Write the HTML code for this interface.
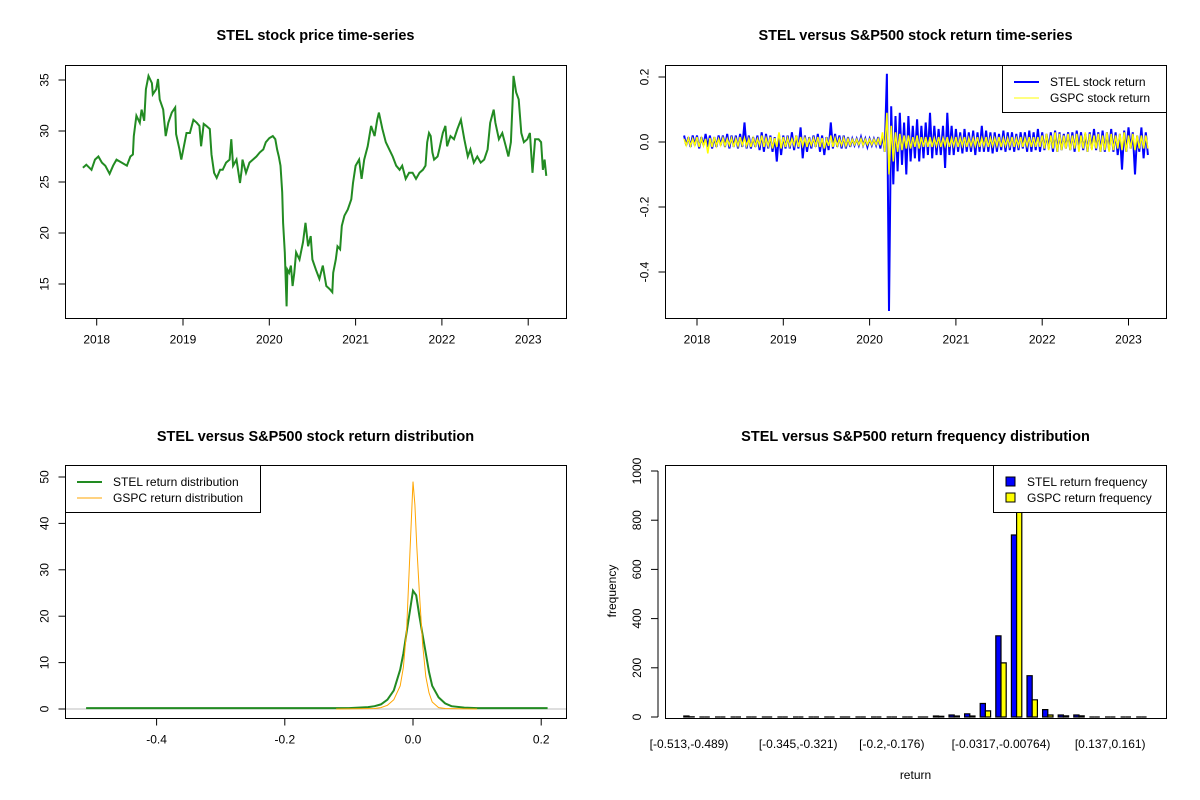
<!DOCTYPE html>
<html><head><meta charset="utf-8"><style>
body{margin:0;background:#fff;}
svg{display:block;font-family:"Liberation Sans",Arial,sans-serif;}
</style></head><body>
<svg id="c" width="1200" height="800" viewBox="0 0 1200 800"></svg>
<script>
// ---------- data ----------
const priceYears=[17.84,17.88,17.94,17.98,18.02,18.06,18.10,18.15,18.19,18.23,18.29,18.35,18.39,18.42,18.43,18.46,18.50,18.52,18.55,18.57,18.60,18.64,18.65,18.69,18.71,18.73,18.77,18.80,18.83,18.87,18.91,18.92,18.96,18.98,19.01,19.04,19.08,19.12,19.16,19.19,19.21,19.24,19.27,19.31,19.33,19.36,19.39,19.43,19.46,19.50,19.54,19.56,19.58,19.62,19.66,19.68,19.69,19.73,19.77,19.81,19.85,19.89,19.93,19.96,20.00,20.04,20.07,20.09,20.11,20.13,20.15,20.16,20.18,20.20,20.21,20.23,20.25,20.27,20.29,20.31,20.35,20.39,20.42,20.45,20.48,20.50,20.54,20.58,20.62,20.66,20.70,20.73,20.74,20.77,20.79,20.82,20.84,20.87,20.91,20.95,20.97,21.00,21.04,21.07,21.10,21.14,21.18,21.22,21.25,21.27,21.31,21.35,21.39,21.43,21.47,21.51,21.54,21.58,21.62,21.66,21.70,21.74,21.78,21.81,21.83,21.85,21.87,21.89,21.91,21.95,21.97,22.01,22.04,22.06,22.10,22.14,22.18,22.22,22.26,22.30,22.33,22.37,22.41,22.45,22.49,22.53,22.56,22.60,22.62,22.66,22.70,22.74,22.77,22.80,22.82,22.83,22.86,22.89,22.92,22.95,22.99,23.02,23.05,23.08,23.12,23.15,23.17,23.19,23.21];
const priceValues=[26.4,26.7,26.2,27.2,27.5,26.9,26.6,25.8,26.6,27.2,26.9,26.6,27.5,27.7,29.5,31.5,30.8,32.1,31.0,34.1,35.4,34.7,33.6,34.1,35.1,33.1,32.1,29.5,30.8,31.8,32.3,29.7,28.2,27.2,28.5,29.8,29.8,31.1,30.8,30.5,28.5,30.7,30.5,30.2,27.7,25.9,25.4,26.2,26.2,26.9,27.2,29.2,26.6,27.2,24.9,26.2,27.2,25.9,26.9,27.2,27.5,27.9,28.2,28.9,29.3,29.5,29.2,28.2,27.5,26.6,24.0,21.0,18.1,12.8,16.4,16.1,16.8,14.8,16.1,18.1,17.4,19.1,21.0,18.7,19.7,17.4,16.4,15.5,16.8,14.8,14.5,14.2,16.1,17.4,18.7,18.4,20.7,21.7,22.3,23.3,24.9,26.6,27.2,25.3,27.2,28.5,30.5,29.5,31.1,31.8,30.2,28.9,28.2,27.5,26.6,26.2,26.6,25.3,25.9,25.9,25.3,25.9,26.2,26.6,28.9,29.8,29.5,27.9,27.2,27.5,28.2,29.8,30.5,28.5,29.5,29.2,30.2,31.1,29.2,27.5,28.2,26.9,27.5,26.9,27.2,28.2,30.8,32.1,30.8,29.2,29.8,28.5,27.5,28.9,33.1,35.4,33.8,33.1,29.8,28.9,29.2,29.8,25.9,29.2,29.2,28.9,26.2,27.2,25.6];
const yearTicks=[2018,2019,2020,2021,2022,2023];
const priceTicks=[15,20,25,30,35];

const retStartYear=2017.85, retStep=0.05;
const stelHi=[.02,.015,.02,.02,.015,.025,.02,.015,.02,.02,.025,.02,.02,.025,.06,.02,.015,.02,.03,.025,.02,.015,.025,.02,.02,.03,.02,.045,.02,.015,.02,.025,.02,.015,.06,.025,.02,.02,.015,.01,.01,.015,.01,.01,.01,.015,.02,.21,.11,.08,.09,.06,.08,.05,.07,.05,.06,.09,.05,.04,.05,.09,.05,.04,.03,.04,.03,.035,.03,.05,.035,.03,.03,.025,.035,.03,.03,.025,.03,.03,.035,.03,.04,.03,.025,.03,.035,.03,.025,.03,.03,.035,.03,.025,.03,.04,.03,.035,.03,.04,.03,.025,.035,.045,.03,.02,.045,.03];
const stelLo=[-.01,-.015,-.01,-.02,-.01,-.015,-.02,-.015,-.01,-.015,-.02,-.015,-.02,-.015,-.02,-.02,-.015,-.025,-.03,-.02,-.03,-.06,-.04,-.02,-.02,-.025,-.02,-.05,-.03,-.02,-.015,-.03,-.04,-.025,-.02,-.015,-.02,-.02,-.015,-.01,-.01,-.01,-.015,-.01,-.01,-.02,-.03,-.52,-.13,-.09,-.07,-.10,-.06,-.05,-.06,-.05,-.04,-.05,-.04,-.04,-.08,-.04,-.04,-.03,-.035,-.03,-.03,-.04,-.03,-.03,-.03,-.035,-.03,-.025,-.03,-.025,-.03,-.025,-.02,-.03,-.03,-.025,-.03,-.025,-.02,-.03,-.03,-.025,-.02,-.025,-.03,-.02,-.025,-.03,-.02,-.025,-.03,-.03,-.025,-.03,-.04,-.085,-.03,-.02,-.10,-.03,-.05,-.04];
const gspcHi=[.01,.012,.01,.015,.012,.01,.012,.015,.01,.012,.01,.012,.01,.015,.012,.01,.012,.01,.02,.012,.015,.012,.03,.015,.012,.01,.02,.015,.012,.01,.012,.015,.012,.01,.02,.012,.01,.012,.01,.008,.008,.01,.008,.008,.008,.01,.03,.09,.05,.03,.025,.02,.02,.015,.02,.015,.015,.015,.012,.015,.012,.015,.012,.015,.012,.015,.012,.012,.015,.012,.015,.012,.012,.015,.012,.012,.015,.012,.015,.012,.015,.015,.015,.02,.025,.02,.03,.025,.02,.025,.02,.025,.02,.03,.025,.02,.025,.02,.03,.025,.02,.025,.03,.02,.025,.02,.02,.02];
const gspcLo=[-.01,-.012,-.01,-.015,-.012,-.035,-.015,-.012,-.01,-.012,-.01,-.015,-.012,-.01,-.012,-.015,-.012,-.01,-.015,-.012,-.02,-.015,-.02,-.015,-.012,-.01,-.015,-.012,-.015,-.01,-.012,-.015,-.02,-.012,-.015,-.012,-.01,-.012,-.01,-.008,-.008,-.01,-.008,-.008,-.008,-.01,-.03,-.10,-.06,-.03,-.025,-.02,-.02,-.015,-.02,-.015,-.015,-.015,-.012,-.015,-.012,-.015,-.012,-.015,-.012,-.015,-.012,-.012,-.015,-.012,-.015,-.012,-.012,-.015,-.012,-.012,-.015,-.012,-.015,-.012,-.015,-.015,-.015,-.02,-.025,-.02,-.03,-.025,-.02,-.025,-.02,-.03,-.02,-.03,-.025,-.02,-.03,-.025,-.03,-.025,-.02,-.025,-.03,-.02,-.025,-.02,-.02,-.02];
const returnTicks=[-0.4,-0.2,0.0,0.2];
const returnTickLabels=["-0.4","-0.2","0.0","0.2"];

const densX=[-0.51,-0.2,-0.1,-0.07,-0.06,-0.05,-0.04,-0.03,-0.02,-0.015,-0.01,-0.005,0,0.005,0.01,0.015,0.02,0.025,0.03,0.04,0.05,0.06,0.08,0.1,0.21];
const stelDens=[0.2,0.2,0.2,0.4,0.6,1.0,2.0,4.0,8.5,12,16.5,21,25.5,24.5,20,16,12,8,5,2.5,1.2,0.6,0.3,0.2,0.2];
const gspcDensX=[-0.12,-0.06,-0.05,-0.04,-0.03,-0.02,-0.015,-0.01,-0.005,0,0.003,0.006,0.01,0.015,0.02,0.025,0.03,0.04,0.05,0.1];
const gspcDens=[0,0.1,0.3,0.8,2,5,9,17,33,49,44,35,25,14,7,3.5,1.5,0.3,0.1,0];
const densXTicks=[-0.4,-0.2,0.0,0.2];
const densYTicks=[0,10,20,30,40,50];

const stelFreq=[4,0,0,0,0,0,0,0,0,0,0,0,0,0,0,0,4,8,13,55,330,740,168,30,8,8,0,0,0,0];
const gspcFreq=[1,0,0,0,0,0,0,0,0,0,0,0,0,0,0,0,3,4,4,25,220,960,70,8,5,5,0,0,0,0];
const binLabelIdx=[0,7,13,20,27];
const binLabels=["[-0.513,-0.489)","[-0.345,-0.321)","[-0.2,-0.176)","[-0.0317,-0.00764)","[0.137,0.161)"];
const freqTicks=[0,200,400,600,800,1000];

// ---------- helpers ----------
const svg=document.getElementById('c');
const NS='http://www.w3.org/2000/svg';
function mk(tag,attrs,parent){const e=document.createElementNS(NS,tag);for(const k in attrs)e.setAttribute(k,attrs[k]);(parent||svg).appendChild(e);return e;}
function txt(s,x,y,opt,parent){const t=mk('text',Object.assign({x:x,y:y,'font-size':12,'text-anchor':'middle',fill:'#000'},opt||{}),parent);t.textContent=s;return t;}
function title(s,cx,y){const t=txt(s,cx,y,{'font-size':14.5,'font-weight':'bold'});}
function box(x0,y0,x1,y1){const r=mk('rect',{x:x0,y:y0,width:x1-x0,height:y1-y0,fill:'none',stroke:'#000','stroke-width':1});}
function xAxis(vals,labels,sx,yb,g){vals.forEach((v,i)=>{const x=sx(v);mk('line',{x1:x,x2:x,y1:yb,y2:yb+7,stroke:'#000'},g);const t=txt(labels[i],x,yb+25,{},g);});
 mk('line',{x1:sx(vals[0]),x2:sx(vals[vals.length-1]),y1:yb,y2:yb,stroke:'#000'},g);}
function yAxis(vals,labels,sy,xl,g){vals.forEach((v,i)=>{const y=sy(v);mk('line',{x1:xl,x2:xl-7,y1:y,y2:y,stroke:'#000'},g);const t=txt(labels[i],0,0,{transform:`translate(${xl-17},${y}) rotate(-90)`},g);});
 mk('line',{x1:xl,x2:xl,y1:sy(vals[0]),y2:sy(vals[vals.length-1]),stroke:'#000'},g);}

// ---------- panel 1: price ----------
{
const g=mk('g',{});
const sx=y=>96.7+(y-2018)*86.3, sy=p=>80-(p-35)*10.2;
title('STEL stock price time-series',315.5,40);
const pts=priceYears.map((y,i)=>sx(2000+y).toFixed(1)+','+sy(priceValues[i]).toFixed(1)).join(' ');
const l=mk('polyline',{points:pts,fill:'none',stroke:'#228B22','stroke-width':2,'stroke-linejoin':'miter'},g);

box(65.5,65.5,566.5,318.5);
xAxis(yearTicks,yearTicks.map(String),sx,318.5,g);
yAxis(priceTicks,priceTicks.map(String),sy,65.5,g);
}
// ---------- panel 2: returns ----------
{
const g=mk('g',{});
const sx=y=>697+(y-2018)*86.3, sy=r=>142-r*325;
title('STEL versus S&P500 stock return time-series',915.5,40);
function zig(hi,lo){const p=[];hi.forEach((h,i)=>{const t=retStartYear+retStep*i;p.push(sx(t).toFixed(1)+','+sy(h).toFixed(1));p.push(sx(t+retStep/2).toFixed(1)+','+sy(lo[i]).toFixed(1));});return p.join(' ');}
const a=mk('polyline',{points:zig(stelHi,stelLo),fill:'none',stroke:'#0000FF','stroke-width':2},g);

const b=mk('polyline',{points:zig(gspcHi,gspcLo),fill:'none',stroke:'#FFFF00','stroke-width':1.5},g);

box(665.5,65.5,1166.5,318.5);
xAxis(yearTicks,yearTicks.map(String),sx,318.5,g);
yAxis(returnTicks,returnTickLabels,sy,665.5,g);
const lg=mk('g',{},g);
mk('rect',{x:1002.5,y:65.5,width:164,height:47,fill:'#fff',stroke:'#000'},lg);
mk('line',{x1:1014,x2:1039,y1:82,y2:82,stroke:'#0000FF','stroke-width':2},lg);
mk('line',{x1:1014,x2:1039,y1:98,y2:98,stroke:'#FFFF00','stroke-width':1},lg);
txt('STEL stock return',1050,86,{'text-anchor':'start'},lg);
txt('GSPC stock return',1050,102,{'text-anchor':'start'},lg);
}
// ---------- panel 3: density ----------
{
const g=mk('g',{});
const sx=v=>413+v*641, sy=d=>709-d*4.64;
title('STEL versus S&P500 stock return distribution',315.5,441);
mk('line',{x1:65.5,x2:566.5,y1:709,y2:709,stroke:'#bebebe'},g);
const s=mk('polyline',{points:densX.map((v,i)=>sx(v).toFixed(1)+','+sy(stelDens[i]).toFixed(1)).join(' '),fill:'none',stroke:'#228B22','stroke-width':2},g);

const o=mk('polyline',{points:gspcDensX.map((v,i)=>sx(v).toFixed(1)+','+sy(gspcDens[i]).toFixed(1)).join(' '),fill:'none',stroke:'#FFA500','stroke-width':1},g);

box(65.5,465.5,566.5,718.5);
xAxis(densXTicks,["-0.4","-0.2","0.0","0.2"],sx,718.5,g);
yAxis(densYTicks,densYTicks.map(String),sy,65.5,g);
const lg=mk('g',{},g);
mk('rect',{x:65.5,y:465.5,width:195,height:47,fill:'#fff',stroke:'#000'},lg);
mk('line',{x1:77,x2:102,y1:482,y2:482,stroke:'#228B22','stroke-width':2},lg);
mk('line',{x1:77,x2:102,y1:498,y2:498,stroke:'#FFA500','stroke-width':1},lg);
txt('STEL return distribution',113,486,{'text-anchor':'start'},lg);
txt('GSPC return distribution',113,502,{'text-anchor':'start'},lg);
}
// ---------- panel 4: histogram ----------
{
const g=mk('g',{});
const u=5.2, x0=678.6;
const sx=k=>x0+u*(1+3*k), sy=f=>717-f*0.246;
title('STEL versus S&P500 return frequency distribution',915.5,441);
const clip=mk('clipPath',{id:'hc'},g);mk('rect',{x:665.5,y:465.5,width:501,height:253},clip);
const bars=mk('g',{'clip-path':'url(#hc)'},g);
function bar(x,f,color){
  const y=sy(f);
  const p=mk('path',{d:`M${x.toFixed(1)},717 L${x.toFixed(1)},${y.toFixed(1)} L${(x+u).toFixed(1)},${y.toFixed(1)} L${(x+u).toFixed(1)},717 Z`,fill:color,stroke:'#000','stroke-width':1.2},bars);
  return p;
}
stelFreq.forEach((f,k)=>{
  const r=bar(sx(k),f,'#0000FF');
  
  const r2=bar(sx(k)+u,gspcFreq[k],'#FFFF00');
  
});
binLabelIdx.forEach((k,i)=>{const t=txt(binLabels[i],sx(k)+u,748,{},g);});
yAxis(freqTicks,freqTicks.map(String),sy,658,g);
const xl=txt('return',915.5,779,{},g);
const yl=txt('frequency',0,0,{transform:'translate(616,591) rotate(-90)'},g);
box(665.5,465.5,1166.5,718.5);
const lg=mk('g',{},g);
mk('rect',{x:993.5,y:465.5,width:173,height:47,fill:'#fff',stroke:'#000'},lg);
mk('rect',{x:1006,y:477,width:9,height:9,fill:'#0000FF',stroke:'#000'},lg);
mk('rect',{x:1006,y:493,width:9,height:9,fill:'#FFFF00',stroke:'#000'},lg);
txt('STEL return frequency',1027,486,{'text-anchor':'start'},lg);
txt('GSPC return frequency',1027,502,{'text-anchor':'start'},lg);
}
</script>
</body></html>
